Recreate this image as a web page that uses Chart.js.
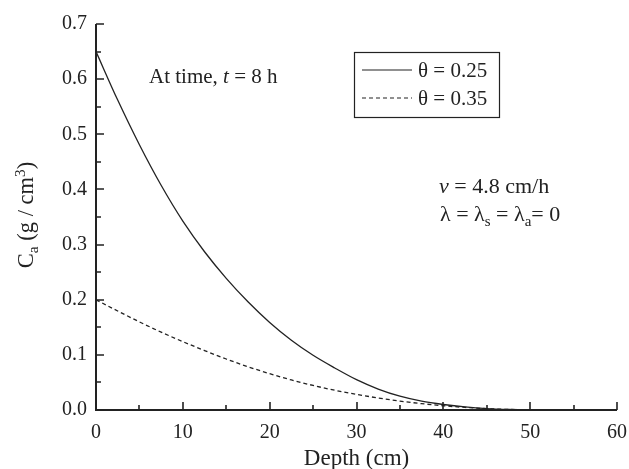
<!DOCTYPE html>
<html>
<head>
<meta charset="utf-8">
<script src="https://cdn.jsdelivr.net/npm/chart.js@4.4.1/dist/chart.umd.min.js"></script>
<style>
  body { margin: 0; background: #fff; }
  canvas { display: block; }
</style>
</head>
<body>
<canvas id="myChart" width="629" height="469"></canvas>
<script>
// depth (cm) and concentration C_a (g/cm3) at t = 8 h
const depth = [0, 2.5, 5, 7.5, 10, 12.5, 15, 17.5, 20, 22.5, 25, 27.5, 30, 32.5, 35, 37.5, 40, 42.5, 45, 47.5, 50, 55, 60];
const theta025 = [0.650, 0.562, 0.481, 0.4075, 0.3425, 0.287, 0.2388, 0.1963, 0.1588, 0.1265, 0.0992, 0.0762, 0.055, 0.038, 0.025, 0.016, 0.010, 0.0055, 0.0025, 0.001, 0.0003, 0, 0];
const theta035 = [0.200, 0.1795, 0.1598, 0.1412, 0.124, 0.1078, 0.0925, 0.0785, 0.0658, 0.0545, 0.0445, 0.0358, 0.0283, 0.0218, 0.0162, 0.0115, 0.0077, 0.0047, 0.0025, 0.001, 0.0003, 0, 0];
const seriesLabels = ['θ = 0.25', 'θ = 0.35'];
const xTicks = [0, 10, 20, 30, 40, 50, 60];
const yTicks = [0, 0.1, 0.2, 0.3, 0.4, 0.5, 0.6, 0.7];

const serif = '"Liberation Serif", "DejaVu Serif", serif';
const ink = '#222';

function pts(ys) {
  return depth.map((d, i) => ({ x: d, y: ys[i] }));
}

// draws text pieces left to right; each piece may be italic or shifted (sub/sup)
function drawRich(ctx, parts, x, y, size) {
  let cx = x;
  parts.forEach(p => {
    const s = p.small ? size * 0.68 : size;
    ctx.font = (p.italic ? 'italic ' : '') + s + 'px ' + serif;
    ctx.fillText(p.t, cx, y + (p.dy || 0));
    cx += ctx.measureText(p.t).width;
  });
  return cx - x;
}
function richWidth(ctx, parts, size) {
  let w = 0;
  parts.forEach(p => {
    const s = p.small ? size * 0.68 : size;
    ctx.font = (p.italic ? 'italic ' : '') + s + 'px ' + serif;
    w += ctx.measureText(p.t).width;
  });
  return w;
}

const decorations = {
  id: 'decorations',
  afterDraw(chart) {
    const ctx = chart.ctx;
    const xs = chart.scales.x, ys = chart.scales.y;
    const area = chart.chartArea;
    ctx.save();
    ctx.strokeStyle = ink;
    ctx.fillStyle = ink;

    // axis lines
    ctx.lineWidth = 2;
    ctx.beginPath();
    ctx.moveTo(area.left, area.top);
    ctx.lineTo(area.left, area.bottom);
    ctx.lineTo(area.right, area.bottom);
    ctx.stroke();

    // inward ticks, major and minor
    ctx.lineWidth = 1.6;
    ctx.beginPath();
    for (let v = 0; v <= 60; v += 5) {
      const px = Math.round(xs.getPixelForValue(v));
      const len = v % 10 === 0 ? 8 : 5;
      ctx.moveTo(px, area.bottom);
      ctx.lineTo(px, area.bottom - len);
    }
    for (let k = 0; k <= 14; k++) {
      const py = Math.round(ys.getPixelForValue(k * 0.05));
      const len = k % 2 === 0 ? 8 : 5;
      ctx.moveTo(area.left, py);
      ctx.lineTo(area.left + len, py);
    }
    ctx.stroke();

    ctx.textBaseline = 'alphabetic';
    ctx.textAlign = 'left';

    // axis titles
    ctx.font = '23px ' + serif;
    ctx.textAlign = 'center';
    ctx.fillText('Depth (cm)', (area.left + area.right) / 2, 465);
    ctx.textAlign = 'left';

    const yTitle = [
      { t: 'C' }, { t: 'a', small: true, dy: 5 },
      { t: ' (g / cm' }, { t: '3', small: true, dy: -8 }, { t: ')' }
    ];
    const yw = richWidth(ctx, yTitle, 22.5);
    ctx.save();
    ctx.translate(33, 215);
    ctx.rotate(-Math.PI / 2);
    drawRich(ctx, yTitle, -yw / 2, 0, 22.5);
    ctx.restore();

    // time note
    drawRich(ctx, [{ t: 'At time, ' }, { t: 't', italic: true }, { t: ' = 8 h' }], 149, 83, 21);

    // legend box
    ctx.lineWidth = 1.2;
    ctx.strokeRect(354.5, 52.5, 145, 65);
    const ds = chart.data.datasets;
    [70, 98].forEach((ly, i) => {
      ctx.beginPath();
      ctx.lineWidth = 1.2;
      ctx.setLineDash(ds[i].borderDash || []);
      ctx.moveTo(362, ly);
      ctx.lineTo(412, ly);
      ctx.stroke();
      ctx.setLineDash([]);
      ctx.font = '21px ' + serif;
      ctx.fillText(ds[i].label, 418, ly + 7);
    });

    // flow parameters
    drawRich(ctx, [{ t: 'v', italic: true }, { t: ' = 4.8 cm/h' }], 439, 193, 22);
    drawRich(ctx, [
      { t: 'λ = λ' }, { t: 's', small: true, dy: 5 },
      { t: ' = λ' }, { t: 'a', small: true, dy: 5 }, { t: '= 0' }
    ], 440, 221, 22);

    ctx.restore();
  }
};

const ctx = document.getElementById('myChart').getContext('2d');
new Chart(ctx, {
  type: 'line',
  data: {
    datasets: [{
      label: seriesLabels[0],
      data: pts(theta025),
      borderColor: ink,
      borderWidth: 1.3,
      pointRadius: 0,
      cubicInterpolationMode: 'monotone',
      fill: false,
    }, {
      label: seriesLabels[1],
      data: pts(theta035),
      borderColor: ink,
      borderWidth: 1.3,
      borderDash: [4, 3],
      pointRadius: 0,
      cubicInterpolationMode: 'monotone',
      fill: false,
    }]
  },
  options: {
    responsive: false,
    animation: false,
    layout: { autoPadding: false, padding: { left: 0, top: 24, right: 12, bottom: 0 } },
    plugins: { legend: { display: false }, tooltip: { enabled: false } },
    scales: {
      x: {
        type: 'linear',
        min: 0, max: 60,
        afterFit: s => { s.height = 59; s.paddingLeft = 0; s.paddingRight = 0; },
        afterBuildTicks: s => { s.ticks = xTicks.map(v => ({ value: v })); },
        grid: { display: false, drawTicks: false },
        border: { display: false },
        ticks: {
          padding: 11,
          color: ink,
          font: { family: serif, size: 20 },
          maxRotation: 0,
          callback: v => String(v),
        },
      },
      y: {
        min: 0, max: 0.7,
        afterFit: s => { s.width = 96; s.paddingTop = 0; s.paddingBottom = 0; },
        afterBuildTicks: s => { s.ticks = yTicks.map(v => ({ value: v })); },
        grid: { display: false, drawTicks: false },
        border: { display: false },
        ticks: {
          padding: 9,
          color: ink,
          font: { family: serif, size: 20 },
          callback: v => v.toFixed(1),
        },
      },
    },
  },
  plugins: [decorations],
});
</script>
</body>
</html>
